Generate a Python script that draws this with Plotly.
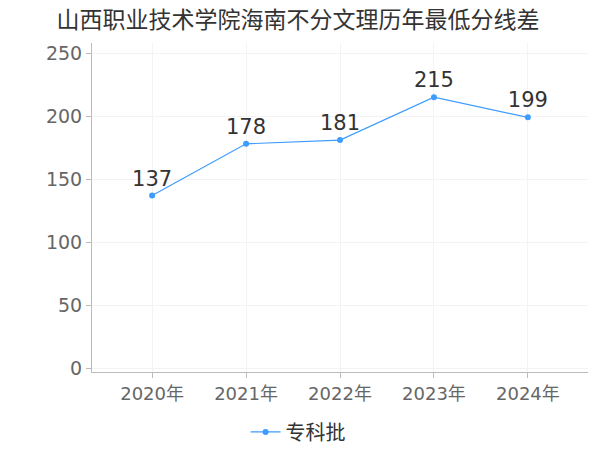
import plotly.graph_objects as go

years = ["2020年", "2021年", "2022年", "2023年", "2024年"]
scores = [137, 178, 181, 215, 199]
series_name = "专科批"
title = "山西职业技术学院海南不分文理历年最低分线差"
y_ticks = [0, 50, 100, 150, 200, 250]

FONT = "DejaVu Sans, Noto Sans CJK SC, sans-serif"
COLOR = "#3d9cff"

fig = go.Figure()
fig.add_trace(go.Scatter(
    x=years, y=scores, name=series_name,
    mode="lines+markers+text",
    line=dict(color=COLOR, width=1.2),
    marker=dict(color=COLOR, size=6),
    text=[str(v) for v in scores],
    textposition="top center",
    textfont=dict(size=21, color="#333333", family=FONT),
    cliponaxis=False,
))

fig.update_layout(
    width=592, height=442,
    margin=dict(l=84, r=12, t=35, b=78, autoexpand=False),
    paper_bgcolor="white", plot_bgcolor="white",
    font=dict(family=FONT, color="#666666"),
    title=dict(text=title, x=0.49, xanchor="center", y=0.973, yanchor="middle",
               font=dict(size=23, color="#333333", family=FONT), automargin=False),
    showlegend=True,
    legend=dict(orientation="h", xref="container", x=0.49, xanchor="center",
                y=-0.182, yanchor="middle",
                font=dict(size=20, color="#333333", family=FONT), itemwidth=30),
    xaxis=dict(
        type="category", range=[-0.64, 4.64], automargin=False,
        showgrid=True, gridcolor="#f3f3f3",
        showline=True, linecolor="#bbbbbb", linewidth=1,
        ticks="outside", ticklen=5, tickcolor="#bbbbbb",
        tickfont=dict(size=18, color="#666666"),
        zeroline=False,
    ),
    yaxis=dict(
        range=[-3, 258], tickvals=y_ticks, automargin=False,
        showgrid=True, gridcolor="#f3f3f3",
        showline=True, linecolor="#bbbbbb", linewidth=1,
        ticks="outside", ticklen=5, tickcolor="#bbbbbb",
        tickfont=dict(size=19, color="#666666"),
        zeroline=False,
    ),
)

fig.write_html("out.html")
